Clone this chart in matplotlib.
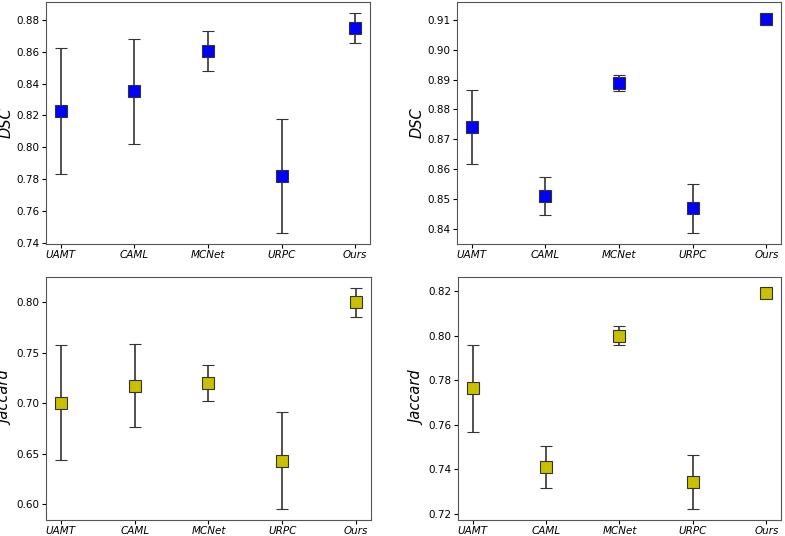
import numpy as np
import matplotlib
matplotlib.use('Agg')
import matplotlib.pyplot as plt

methods = ['UAMT', 'CAML', 'MCNet', 'URPC', 'Ours']

# dataset 1 (left column)
dsc_a = [0.8227, 0.8353, 0.8606, 0.7818, 0.8751]
dsc_a_std = [0.0394, 0.0330, 0.0127, 0.0357, 0.0093]
jac_a = [0.7007, 0.7175, 0.7205, 0.6432, 0.8000]
jac_a_std = [0.0566, 0.0413, 0.0178, 0.0478, 0.0142]

# dataset 2 (right column)
dsc_b = [0.8741, 0.8510, 0.8889, 0.8468, 0.9104]
dsc_b_std = [0.0124, 0.0063, 0.0028, 0.0083, 0.0020]
jac_b = [0.7764, 0.7409, 0.8000, 0.7344, 0.8192]
jac_b_std = [0.0196, 0.0095, 0.0043, 0.0122, 0.0023]

fig = plt.figure(figsize=(7.85, 5.36), dpi=100)

panels = [
    ([0.0586, 0.5448, 0.4127, 0.4515], dsc_a, dsc_a_std, 'blue', 'DSC'),
    ([0.5822, 0.5448, 0.4127, 0.4515], dsc_b, dsc_b_std, 'blue', 'DSC'),
    ([0.0586, 0.0299, 0.4140, 0.4533], jac_a, jac_a_std, '#c8c000', 'Jaccard'),
    ([0.5834, 0.0299, 0.4115, 0.4533], jac_b, jac_b_std, '#c8c000', 'Jaccard'),
]

x = np.arange(len(methods))
for rect, vals, err, col, lab in panels:
    ax = fig.add_axes(rect)
    ax.errorbar(x, vals, yerr=err, fmt='s', color=col, markersize=8,
                markeredgecolor='#333333', markeredgewidth=0.8,
                ecolor='#333333', elinewidth=1.2, capsize=4, capthick=1.2)
    ax.set_xticks(x)
    ax.set_xticklabels(methods, fontstyle='italic', fontsize=7.5)
    ax.tick_params(axis='x', length=3, pad=1.5)
    ax.tick_params(axis='y', labelsize=7.5, length=3, pad=2)
    ax.set_ylabel(lab, fontstyle='italic', fontsize=10.5)
    ax.yaxis.set_label_coords(-0.1, 0.5)
    for s in ax.spines.values():
        s.set_color('#555555')

plt.savefig('out.png', dpi=100)
